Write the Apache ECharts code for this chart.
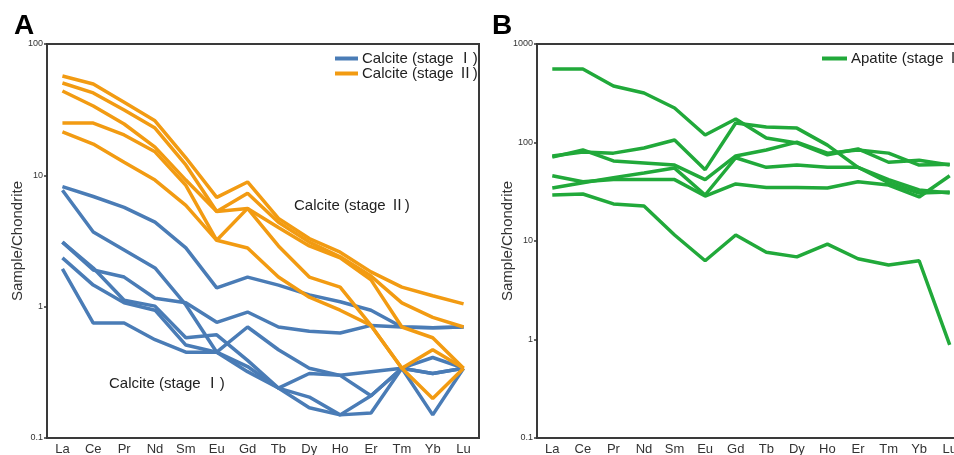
<!DOCTYPE html>
<html>
<head>
<meta charset="utf-8">
<script src="https://cdn.jsdelivr.net/npm/echarts@6/dist/echarts.min.js"></script>
<style>
  html, body { margin: 0; padding: 0; background: #fff; }
  #chart { width: 954px; height: 455px; }
</style>
</head>
<body>
<div id="chart"></div>
<script>
const elements = ["La", "Ce", "Pr", "Nd", "Sm", "Eu", "Gd", "Tb", "Dy", "Ho", "Er", "Tm", "Yb", "Lu"];

// panel A - calcite stage I
const calI_1 = [8.2, 6.9, 5.7, 4.4, 2.8, 1.39, 1.68, 1.46, 1.23, 1.09, 0.94, 0.70, 0.69, 0.70];
const calI_2 = [7.7, 3.7, 2.7, 1.97, 1.03, 0.45, 0.70, 0.47, 0.34, 0.30, 0.21, 0.34, 0.41, 0.34];
const calI_3 = [3.1, 1.90, 1.68, 1.16, 1.07, 0.76, 0.91, 0.70, 0.65, 0.63, 0.72, 0.70, 0.69, 0.70];
const calI_4 = [3.1, 1.97, 1.12, 1.01, 0.58, 0.61, 0.39, 0.24, 0.31, 0.30, 0.32, 0.34, 0.31, 0.34];
const calI_5 = [2.35, 1.46, 1.07, 0.94, 0.51, 0.45, 0.35, 0.24, 0.205, 0.15, 0.155, 0.34, 0.15, 0.34];
const calI_6 = [1.94, 0.75, 0.75, 0.56, 0.45, 0.45, 0.32, 0.24, 0.17, 0.15, 0.21, 0.34, 0.31, 0.34];

// panel A - calcite stage II
const calII_1 = [57, 49.6, 36, 26, 13.6, 6.8, 8.9, 4.7, 3.3, 2.6, 1.84, 1.41, 1.21, 1.05];
const calII_2 = [50.5, 42.4, 31.4, 22.9, 12.0, 5.3, 7.3, 4.4, 3.1, 2.4, 1.71, 1.07, 0.83, 0.70];
const calII_3 = [43.9, 33.7, 24.6, 16.4, 9.2, 5.3, 5.6, 4.0, 2.9, 2.35, 1.60, 0.70, 0.58, 0.34];
const calII_4 = [25, 25, 20.3, 15.1, 8.4, 3.2, 5.6, 2.9, 1.68, 1.41, 0.72, 0.34, 0.47, 0.34];
const calII_5 = [21.4, 17.3, 12.6, 9.2, 5.9, 3.2, 2.8, 1.68, 1.18, 0.94, 0.72, 0.34, 0.20, 0.34];

// panel B - apatite stage II
const apa_1 = [557, 557, 375, 318, 224, 119, 173, 111, 99, 75, 86, 63, 66, 59];
const apa_2 = [73, 80, 78, 88, 106, 53, 158, 144, 140, 94, 56, 39, 30.7, 31.4];
const apa_3 = [71, 84, 65, 62, 59, 42, 73, 84, 101, 78, 84, 78, 59, 60];
const apa_4 = [46, 40, 42, 42, 42, 28.6, 38, 35, 35, 34.5, 40, 37, 28, 46];
const apa_5 = [34.5, 39, 44, 49, 55, 29.3, 70, 56, 59, 56, 56, 42, 33, 30.7];
const apa_6 = [29.3, 30, 23.8, 22.7, 11.5, 6.3, 11.5, 7.7, 6.9, 9.3, 6.6, 5.7, 6.3, 0.88];

const BLUE = "#4a7cb6";
const ORANGE = "#f29b12";
const GREEN = "#21a93a";
const FONT = "'Liberation Sans', Arial, 'Noto Sans CJK SC', sans-serif";

const chart = echarts.init(document.getElementById("chart"));

function line(name, data, color, idx) {
    return {
        name: name,
        type: "line",
        xAxisIndex: idx,
        yAxisIndex: idx,
        data: data,
        symbol: "none",
        lineStyle: { color: color, width: 3.5 },
        itemStyle: { color: color },
        emphasis: { disabled: true },
        z: color === BLUE ? 2 : 3
    };
}

function xAxis(idx) {
    return {
        type: "category",
        gridIndex: idx,
        data: elements,
        boundaryGap: true,
        axisLine: { show: false },
        axisTick: { show: false },
        axisLabel: { color: "#333", fontSize: 13, fontFamily: FONT, margin: 5, interval: 0 }
    };
}

function yAxis(idx, max) {
    return {
        type: "log",
        gridIndex: idx,
        logBase: 10,
        min: 0.1,
        max: max,
        name: "Sample/Chondrite",
        nameLocation: "middle",
        nameGap: 22,
        nameMoveOverlap: false,
        nameTextStyle: { color: "#333", fontSize: 15, fontFamily: FONT },
        axisLine: { show: false },
        axisTick: { show: true, length: 3, lineStyle: { color: "#333", width: 1.5 } },
        splitLine: { show: false },
        axisLabel: { color: "#333", fontSize: 9, fontFamily: FONT, margin: 4, formatter: v => String(v) }
    };
}

const stageI = [calI_1, calI_2, calI_3, calI_4, calI_5, calI_6];
const stageII = [calII_1, calII_2, calII_3, calII_4, calII_5];
const apatite = [apa_1, apa_2, apa_3, apa_4, apa_5, apa_6];

const series = [];
stageI.forEach(d => series.push(line("Calcite (stage \u2160)", d, BLUE, 0)));
stageII.forEach(d => series.push(line("Calcite (stage \u2161)", d, ORANGE, 0)));
apatite.forEach(d => series.push(line("Apatite (stage \u2161)", d, GREEN, 1)));

const legendText = { color: "#222", fontSize: 15, fontFamily: FONT, padding: [0, 0, 0, -1] };

chart.setOption({
    animation: false,
    textStyle: { fontFamily: FONT },
    grid: [
        { left: 47, width: 432, top: 44, bottom: 17, outerBoundsMode: "none", show: true, borderColor: "#3a3a3a", borderWidth: 2, backgroundColor: "transparent" },
        { left: 537, width: 428, top: 44, bottom: 17, outerBoundsMode: "none", show: true, borderColor: "#3a3a3a", borderWidth: 2, backgroundColor: "transparent" }
    ],
    legend: [
        {
            data: ["Calcite (stage \u2160)", "Calcite (stage \u2161)"],
            orient: "vertical",
            left: 330,
            top: 46,
            itemGap: 0,
            icon: "rect",
            itemWidth: 23,
            itemHeight: 4,
            textStyle: legendText
        },
        {
            data: ["Apatite (stage \u2161)"],
            orient: "vertical",
            left: 817,
            top: 46,
            itemGap: 0,
            icon: "rect",
            itemWidth: 25,
            itemHeight: 4,
            textStyle: legendText
        }
    ],
    xAxis: [xAxis(0), xAxis(1)],
    yAxis: [yAxis(0, 100), yAxis(1, 1000)],
    graphic: [
        { type: "text", left: 14, top: 12, style: { text: "A", fontSize: 28, fontWeight: "bold", fill: "#000", fontFamily: FONT } },
        { type: "text", left: 492, top: 12, style: { text: "B", fontSize: 28, fontWeight: "bold", fill: "#000", fontFamily: FONT } },
        { type: "text", left: 294, top: 198, style: { text: "Calcite (stage \u2161)", fontSize: 15, fill: "#222", fontFamily: FONT } },
        { type: "text", left: 109, top: 376, style: { text: "Calcite (stage \u2160)", fontSize: 15, fill: "#222", fontFamily: FONT } }
    ],
    series: series
});
</script>
</body>
</html>
